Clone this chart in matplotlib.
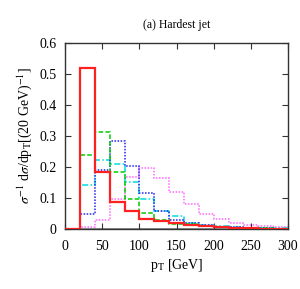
import matplotlib
matplotlib.use("Agg")
import matplotlib.pyplot as plt
import numpy as np

plt.rcParams['font.family'] = ['Liberation Serif', 'DejaVu Serif']
plt.rcParams['mathtext.fontset'] = 'stix'

edges = list(range(0, 320, 20))
red = [0, 0.52, 0.183, 0.087, 0.058, 0.033, 0.025, 0.019, 0.013, 0.008, 0.005, 0.003, 0.002, 0.001, 0.001]
green = [0, 0.24, 0.312, 0.185, 0.098, 0.052, 0.030, 0.017, 0.015, 0.010, 0.006, 0.004, 0.003, 0.002, 0.001]
blue = [0, 0.048, 0.19, 0.283, 0.204, 0.115, 0.058, 0.030, 0.018, 0.012, 0.007, 0.005, 0.003, 0.002, 0.001]
cyan = [0, 0.143, 0.224, 0.211, 0.153, 0.098, 0.058, 0.042, 0.020, 0.014, 0.008, 0.005, 0.004, 0.002, 0.002]
magenta = [0, 0.005, 0.03, 0.095, 0.167, 0.196, 0.165, 0.12, 0.081, 0.049, 0.032, 0.018, 0.012, 0.008, 0.005]

fig = plt.figure(figsize=(3.0, 2.89), dpi=100)
ax = fig.add_axes([0.217, 0.208, 0.743, 0.643])

ax.axhline(0, color='#808080', lw=1.2, zorder=1)
ax.stairs(magenta, edges, color='#ff66ff', lw=1.1, ls=(0, (1, 1)), baseline=None, zorder=2)
ax.stairs(cyan, edges, color='#00dddd', lw=1.1, ls=(0, (4, 1.5, 1, 1.5)), baseline=None, zorder=3)
ax.stairs(blue, edges, color='#2222ee', lw=1.1, ls=(0, (1, 1)), baseline=None, zorder=4)
ax.stairs(green, edges, color='#00cc00', lw=1.1, ls=(0, (3, 1.5)), baseline=None, zorder=5)
ax.stairs(red, edges, color='#ff2020', lw=1.6, baseline=None, zorder=6)

ax.set_xlim(0, 300)
ax.set_ylim(0, 0.6)
ax.set_xticks(range(0, 301, 50))
ax.set_yticks([0, 0.1, 0.2, 0.3, 0.4, 0.5, 0.6])
ax.set_yticklabels(['0', '0.1', '0.2', '0.3', '0.4', '0.5', '0.6'])
ax.tick_params(direction='in', top=True, right=True, labelsize=10, length=4, color='#333333')
ax.tick_params(axis='x', pad=8)
ax.tick_params(axis='y', pad=6)
for s in ax.spines.values():
    s.set_color('#333333')
    s.set_linewidth(1.0)

ax.set_title('(a) Hardest jet', fontsize=8.5, pad=11)
ax.set_xlabel(r'p$_\mathrm{T}$ [GeV]', fontsize=10, labelpad=3)
ax.set_ylabel(r'$\sigma^{-1}$ d$\sigma$/dp$_\mathrm{T}$[(20 GeV)$^{-1}$]', fontsize=10, labelpad=4)

fig.savefig('out.png', dpi=100)
